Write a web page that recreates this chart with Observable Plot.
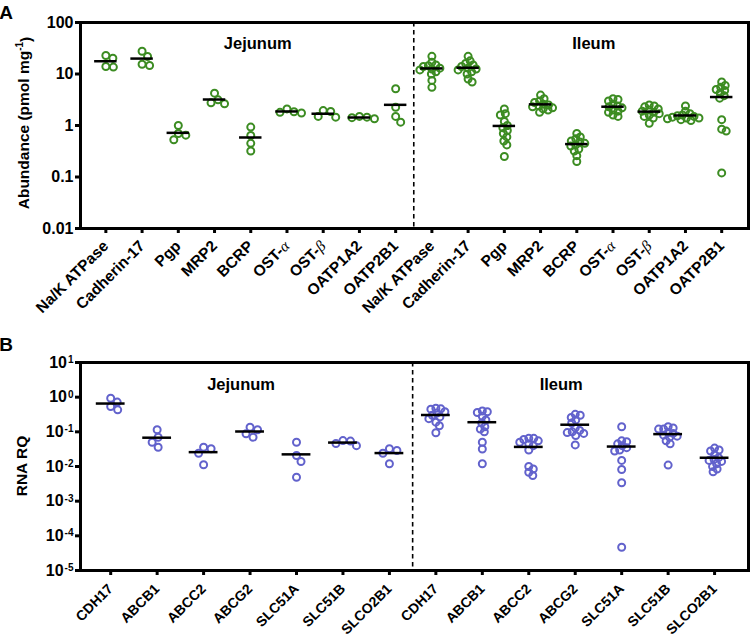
<!DOCTYPE html>
<html><head><meta charset="utf-8">
<script src="https://cdn.jsdelivr.net/npm/d3@7"></script>
<script src="https://cdn.jsdelivr.net/npm/@observablehq/plot@0.6"></script>
<style>
html,body{margin:0;padding:0;background:#fff;}
#chart{width:754px;height:644px;position:relative;overflow:hidden;}
svg{display:block;}
</style></head><body><div id="chart"></div>
<script>
// ---------------- data ----------------
const groups = ["Jejunum", "Ileum"];
const proteinCats = ["Na/K ATPase","Cadherin-17","Pgp","MRP2","BCRP","OST-α","OST-β","OATP1A2","OATP2B1"];
const proteinJejunum = [
  [20.3, 13.6, 14.0, 22.9],
  [21.9, 14.6, 15.5, 27.7],
  [0.70, 0.53, 0.65, 1.0],
  [3.15, 2.64, 2.75, 4.25],
  [0.93, 0.64, 0.45, 0.32],
  [1.85, 1.75, 1.80, 2.10],
  [1.87, 1.45, 1.50, 1.95],
  [1.35, 1.45, 1.42, 1.50],
  [5.16, 2.26, 1.16, 1.50]
];
const proteinIleum = [
  [22, 17, 15, 14.5, 14, 13, 12.5, 12, 11, 10, 7.5, 5.5],
  [22, 18, 16, 15, 14, 13, 12.5, 12, 11, 10, 8, 7],
  [2.1, 1.7, 1.6, 1.2, 1.0, 0.9, 0.8, 0.7, 0.6, 0.5, 0.42, 0.25],
  [3.9, 3.3, 3.0, 2.8, 2.6, 2.5, 2.4, 2.3, 2.2, 2.1, 2.0, 1.8],
  [0.70, 0.60, 0.55, 0.50, 0.48, 0.45, 0.42, 0.40, 0.35, 0.32, 0.26, 0.20],
  [3.3, 3.2, 3.0, 2.6, 2.4, 2.3, 2.2, 2.0, 1.9, 1.8, 1.6, 1.5],
  [2.5, 2.4, 2.3, 2.1, 2.0, 1.9, 1.8, 1.7, 1.6, 1.5, 1.4, 1.1],
  [2.4, 1.9, 1.7, 1.6, 1.55, 1.5, 1.45, 1.4, 1.4, 1.35, 1.3, 1.25],
  [7.0, 6.0, 5.5, 5.0, 4.8, 4.3, 3.8, 3.4, 1.3, 0.85, 0.78, 0.12]
];
const rnaCats = ["CDH17","ABCB1","ABCC2","ABCG2","SLC51A","SLC51B","SLCO2B1"];
const rnaJejunum = [
  [0.72, 0.43, 0.54, 0.93],
  [0.070, 0.036, 0.050, 0.115],
  [0.036, 0.0112, 0.0242, 0.0324],
  [0.115, 0.070, 0.088, 0.136],
  [0.050, 0.0208, 0.0139, 0.0049],
  [0.054, 0.040, 0.056, 0.046],
  [0.029, 0.0324, 0.0242, 0.012]
];
const rnaIleum = [
  [0.48, 0.46, 0.45, 0.38, 0.35, 0.30, 0.27, 0.24, 0.19, 0.15, 0.094],
  [0.40, 0.38, 0.36, 0.28, 0.22, 0.18, 0.14, 0.12, 0.10, 0.05, 0.032, 0.012],
  [0.065, 0.065, 0.060, 0.055, 0.050, 0.045, 0.040, 0.030, 0.010, 0.0085, 0.0068, 0.0055],
  [0.32, 0.30, 0.26, 0.22, 0.18, 0.13, 0.11, 0.10, 0.095, 0.09, 0.078, 0.042],
  [0.14, 0.055, 0.052, 0.045, 0.040, 0.035, 0.030, 0.028, 0.015, 0.0082, 0.0034, 0.000047],
  [0.14, 0.13, 0.12, 0.12, 0.095, 0.09, 0.08, 0.075, 0.07, 0.055, 0.045, 0.011],
  [0.034, 0.030, 0.028, 0.022, 0.018, 0.016, 0.015, 0.014, 0.012, 0.010, 0.0085, 0.007]
];
const yTicksA = [0.01, 0.1, 1, 10, 100];
const yTickLabelsA = ["0.01", "0.1", "1", "10", "100"];
const yTicksB = [1e-5, 1e-4, 1e-3, 1e-2, 1e-1, 1, 10];
const yTickExpB = ["-5", "-4", "-3", "-2", "-1", "0", "1"];

// ---------------- helpers ----------------
const FONT = "'Liberation Sans', Arial, Helvetica, sans-serif";
const GREEN = "#3c8c22";
const PURPLE = "#6262cc";

function buildRows(cats, series) {
  const rows = [];
  series.forEach((s, g) => s.forEach((vals, c) => vals.forEach(v =>
    rows.push({i: g * cats.length + c, group: groups[g], cat: cats[c], value: v}))));
  return rows;
}
function buildMeans(cats, series) {
  const out = [];
  series.forEach((s, g) => s.forEach((vals, c) =>
    out.push({i: g * cats.length + c, mean: d3.mean(vals)})));
  return out;
}
// simple beeswarm: horizontal offsets (in x-domain units) so that circles do not pile up
function swarm(rows, yPx, stepPx) {
  const byCat = d3.group(rows, d => d.i);
  for (const [i, pts] of byCat) {
    const minDist = pts.length <= 4 ? 7.5 : 4.8;
    const placed = [];
    const sorted = pts.slice().sort((a, b) => b.value - a.value);
    for (const p of sorted) {
      const py = yPx(p.value);
      let off = 0;
      for (let k = 0; k < 400; k++) {
        const cand = (k % 2 ? 1 : -1) * Math.ceil(k / 2) * 0.5;
        const ok = placed.every(q => (q.ox - cand) ** 2 + (q.py - py) ** 2 >= minDist * minDist);
        if (ok) { off = cand; break; }
      }
      placed.push({ox: off, py});
      p.x = p.i + off / stepPx;
    }
  }
  return rows;
}

function panel(opts) {
  const {cats, series, color, height, marginTop, marginBottom, yDomain, yTicks, yFormat,
         xDomain, xFont, xPad, labelDy} = opts;
  const allCats = cats.concat(cats);
  const marginLeft = 80, marginRight = 6, width = 754;
  const rows = buildRows(cats, series);
  const means = buildMeans(cats, series);
  const yPx = d3.scaleLog().domain(yDomain).range([height - marginBottom, marginTop]);
  const stepPx = (width - marginLeft - marginRight) / (xDomain[1] - xDomain[0]);
  swarm(rows, yPx, stepPx);
  const n = cats.length;
  const groupLabels = groups.map((g, k) => ({name: g, x: k * n + (n - 1) / 2, k}));
  const svg = Plot.plot({
    width, height, marginLeft, marginRight, marginTop, marginBottom,
    style: {fontFamily: FONT, fontSize: "16px", fontWeight: "bold", color: "#000", background: "#fff", overflow: "visible"},
    x: {domain: xDomain, axis: null},
    y: {type: "log", domain: yDomain, axis: null},
    marks: [
      Plot.axisY({ticks: yTicks, tickFormat: yFormat, tickSize: 5, tickPadding: 2, strokeWidth: 3, label: null, fontSize: 16}),
      Plot.axisX({ticks: d3.range(allCats.length), tickFormat: i => allCats[i], tickRotate: -45,
                  tickSize: 5, tickPadding: xPad, strokeWidth: 3, label: null, fontSize: xFont}),
      Plot.ruleX([n - 0.5], {stroke: "#000", strokeWidth: 1.6, strokeDasharray: "4.5,3.5"}),
      Plot.dot(rows, {x: "x", y: "value", r: 3.5, stroke: color, strokeWidth: 2, fill: "none"}),
      Plot.ruleY(means, {y: "mean", x1: d => d.i - 0.31, x2: d => d.i + 0.31, stroke: "#000", strokeWidth: 2.5}),
      Plot.text(groupLabels, {x: "x", text: "name", frameAnchor: "top", dy: labelDy,
                fontSize: 16.5, fontWeight: "bold", fill: "#000"}),
      Plot.frame({stroke: "#000", strokeWidth: 3})
    ]
  });
  d3.select(svg).selectAll('g[aria-label="x-axis tick label"]').attr("font-size", xFont)
    .style("font-size", xFont + "px").selectAll("text").style("font-size", xFont + "px");
  d3.select(svg).selectAll('g[aria-label="y-axis tick label"]').attr("font-size", 16)
    .style("font-size", "16px").selectAll("text").style("font-size", "16px");
  return svg;
}

const chart = document.getElementById("chart");

// ---------------- panel A ----------------
const svgA = panel({
  cats: proteinCats, series: [proteinJejunum, proteinIleum], color: GREEN,
  height: 330, marginTop: 22, marginBottom: 102,
  yDomain: [0.01, 100], yTicks: yTicksA,
  yFormat: d => yTickLabelsA[yTicksA.indexOf(d)],
  xDomain: [-0.70, 17.74], xFont: 15.5, xPad: 10, labelDy: 14.5
});
chart.appendChild(svgA);

// ---------------- panel B ----------------
const svgB = panel({
  cats: rnaCats, series: [rnaJejunum, rnaIleum], color: PURPLE,
  height: 314, marginTop: 32, marginBottom: 74,
  yDomain: [1e-5, 10], yTicks: yTicksB,
  yFormat: d => "10|" + yTickExpB[yTicksB.indexOf(d)],
  xDomain: [-0.65, 13.73], xFont: 14, xPad: 11, labelDy: 15.5
});
chart.appendChild(svgB);

// ---------------- text refinements ----------------
function groupLabelShift(svg, dxs) {
  d3.select(svg).selectAll("text").filter(function() {
    return groups.includes(this.textContent);
  }).each(function() {
    const k = groups.indexOf(this.textContent);
    const t = d3.select(this);
    const cur = t.attr("transform") || "";
    t.attr("transform", cur + ` translate(${dxs[k]},0)`);
  });
}
groupLabelShift(svgA, [7, 17]);
groupLabelShift(svgB, [-9, -14]);

// superscript exponents for panel B y ticks
d3.select(svgB).selectAll("text").each(function() {
  const s = this.textContent;
  if (/^10\|/.test(s)) {
    const exp = s.split("|")[1];
    const t = d3.select(this);
    t.text("");
    t.append("tspan").text("10");
    t.append("tspan").attr("dy", "-0.45em").attr("font-size", "10px").style("font-size", "10px").attr("dx", "1").text(exp);
  }
});
// greek letters in OST-α / OST-β
d3.select(svgA).selectAll("text").each(function() {
  const s = this.textContent;
  const m = s.match(/^(OST-)([αβ])$/);
  if (m) {
    const t = d3.select(this);
    t.text("");
    t.append("tspan").text(m[1]);
    t.append("tspan").attr("font-family", "'Liberation Serif', 'DejaVu Serif', serif")
      .attr("font-style", "italic").attr("font-weight", "normal").text(m[2]);
  }
});

// panel letters and axis titles
function addTitle(svg, letter, letterY, lines, cx, cy) {
  const s = d3.select(svg);
  s.append("text").attr("x", 6).attr("y", letterY).attr("font-family", FONT)
    .attr("font-size", 19).style("font-size", "19px").attr("font-weight", "bold").attr("fill", "#000").text(letter);
  const t = s.append("text").attr("transform", `translate(${cx},${cy}) rotate(-90)`)
    .attr("text-anchor", "middle").attr("dominant-baseline", "central")
    .attr("font-family", FONT).style("font-size", "15.5px").attr("font-weight", "bold").attr("fill", "#000");
  lines(t);
}
addTitle(svgA, "A", 19, t => {
  t.append("tspan").text("Abundance (pmol mg");
  t.append("tspan").attr("dy", "-0.45em").style("font-size", "10px").text("-1");
  t.append("tspan").attr("dy", "0.45em").text(")");
}, 23, 123);
addTitle(svgB, "B", 21, t => {
  t.append("tspan").text("RNA RQ");
}, 21, 136);
</script>
</body></html>
